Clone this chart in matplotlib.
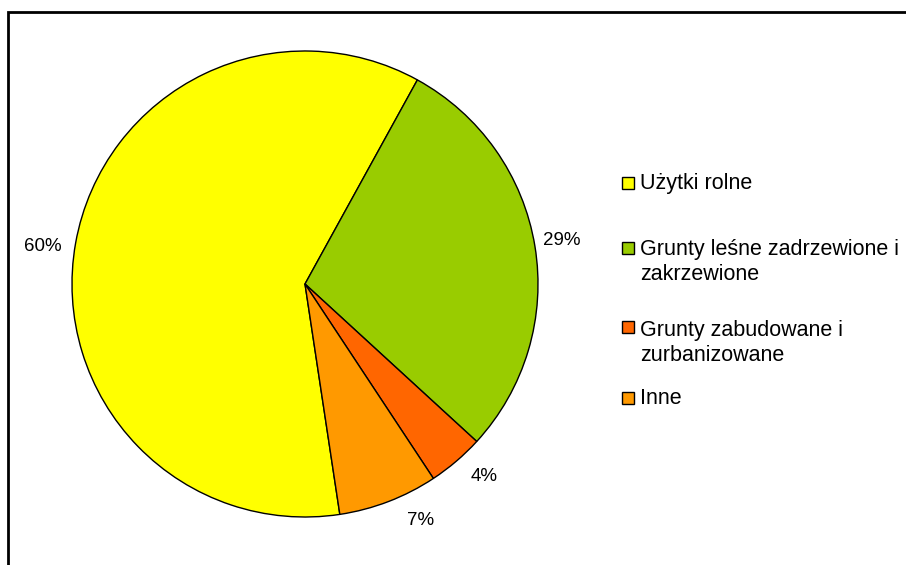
import matplotlib.pyplot as plt
from matplotlib.patches import Rectangle

plt.rcParams['font.family'] = ['Liberation Sans', 'DejaVu Sans']

labels = ['Użytki rolne', 'Grunty leśne zadrzewione i\nzakrzewione',
          'Grunty zabudowane i\nzurbanizowane', 'Inne']
values = [60.4, 28.8, 3.9, 6.9]
colors = ['#FFFF00', '#99CC00', '#FF6600', '#FF9900']

W, H = 906, 565
fig = plt.figure(figsize=(W / 100, H / 100), dpi=100)

# frame round the chart area (open at right and bottom like the source)
fig.patches.append(Rectangle((8 / W, -0.05), 1.2, (H - 12) / H + 0.05,
                             transform=fig.transFigure, fill=False,
                             edgecolor='#000000', linewidth=2))

cx, cy, r = 305, 284, 233
ax = fig.add_axes([(cx - r) / W, (H - cy - r) / H, 2 * r / W, 2 * r / H])
wedges, texts, autotexts = ax.pie(values, colors=colors, startangle=278.6,
                                  counterclock=False, radius=1,
                                  autopct='%1.0f%%', pctdistance=1.13,
                                  wedgeprops=dict(edgecolor='black', linewidth=1),
                                  textprops=dict(fontsize=13.5, color='#000000'))
ax.set_xlim(-1, 1)
ax.set_ylim(-1, 1)
ax.set_aspect('equal')
ax.axis('off')

# nudge the percentage labels to where the source puts them
label_pos = [(-1.124, 0.159), (1.103, 0.185), (0.768, -0.828), (0.494, -1.017)]
for t, (x, y) in zip(autotexts, label_pos):
    t.set_position((x, y))

# legend drawn by hand to follow the uneven spacing of the source
marker_y = [183, 248, 327, 398]      # square centres, px from top
last_baseline = [189, 280, 361, 404]  # baseline of each entry's last line
for lab, col, my, by in zip(labels, colors, marker_y, last_baseline):
    fig.patches.append(Rectangle((622 / W, 1 - (my + 6) / H), 12 / W, 12 / H,
                                 transform=fig.transFigure, facecolor=col,
                                 edgecolor='black', linewidth=1))
    fig.text(640 / W, 1 - by / H, lab, fontsize=15.5, va='baseline', ha='left',
             linespacing=1.23, multialignment='left')

fig.savefig('out.png', dpi=100)
